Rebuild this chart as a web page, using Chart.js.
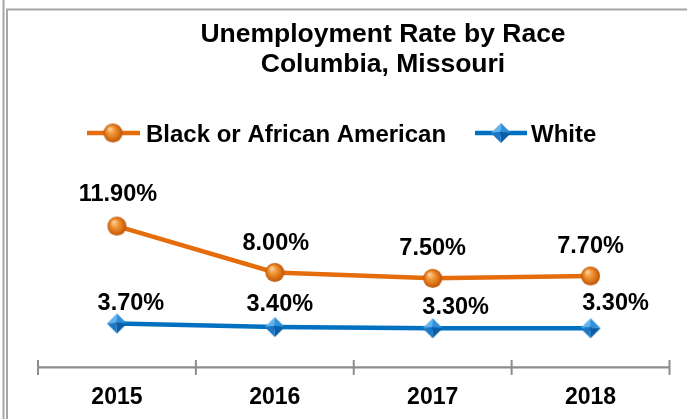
<!DOCTYPE html>
<html>
<head>
<meta charset="utf-8">
<script src="https://cdn.jsdelivr.net/npm/chart.js@4/dist/chart.umd.min.js"></script>
<style>
  html, body { margin: 0; padding: 0; background: #ffffff; }
  #wrap { position: relative; width: 687px; height: 419px; }
  canvas { display: block; }
</style>
</head>
<body>
<div id="wrap"><canvas id="c" width="687" height="419"></canvas></div>
<script>
// ---- data ----
const categories = ['2015', '2016', '2017', '2018'];
const blackRates = [11.9, 8.0, 7.5, 7.7];
const whiteRates = [3.7, 3.4, 3.3, 3.3];
const seriesNames = ['Black or African American', 'White'];
const titleLines = ['Unemployment Rate by Race', 'Columbia, Missouri'];

// ---- styles ----
const ORANGE = '#E46C0A';
const BLUE = '#0070C0';
const FONT = '"Liberation Sans", Arial, sans-serif';
const NARROW = '"Liberation Sans Narrow", "Arial Narrow", "Liberation Sans", sans-serif';
// label offsets (dx, dy) of the label centre relative to each point
const labelOffsets = [
  [[1, -33], [1, -31], [0, -31.6], [0, -31.7]],
  [[14, -22], [5, -24], [23, -22.6], [25, -26.3]]
];

function makeBall(r) {
  const s = Math.ceil(r * 2 + 2);
  const c = document.createElement('canvas');
  c.width = s; c.height = s;
  const g = c.getContext('2d');
  const cx = s / 2, cy = s / 2;
  const grad = g.createRadialGradient(cx - r * 0.35, cy - r * 0.45, r * 0.05, cx, cy, r);
  grad.addColorStop(0, '#FDD3A4');
  grad.addColorStop(0.35, '#F39A3E');
  grad.addColorStop(0.8, '#D56A10');
  grad.addColorStop(1, '#B4540C');
  g.fillStyle = grad;
  g.beginPath(); g.arc(cx, cy, r, 0, Math.PI * 2); g.fill();
  return c;
}
function makeDiamond(r) {
  const s = Math.ceil(r * 2 + 2);
  const c = document.createElement('canvas');
  c.width = s; c.height = s;
  const g = c.getContext('2d');
  const cx = s / 2, cy = s / 2;
  const T = [cx, cy - r], R = [cx + r, cy], B = [cx, cy + r], L = [cx - r, cy], C = [cx - 1, cy - 1];
  const tri = (a, b, col) => { g.fillStyle = col; g.beginPath(); g.moveTo(a[0], a[1]); g.lineTo(b[0], b[1]); g.lineTo(C[0], C[1]); g.closePath(); g.fill(); };
  tri(L, T, '#63B3EE');
  tri(T, R, '#2E8FDA');
  tri(R, B, '#0B5EA6');
  tri(B, L, '#1A78C6');
  return c;
}
const ball = makeBall(9.5);
const diamond = makeDiamond(10);

const decor = {
  id: 'decor',
  beforeDatasetsDraw(chart) {
    const ctx = chart.ctx;
    const x = chart.scales.x, y = chart.scales.y;
    const yAxis = y.getPixelForValue(0);
    ctx.save();
    ctx.strokeStyle = '#8C8C8C';
    ctx.lineWidth = 2.2;
    ctx.beginPath();
    ctx.moveTo(chart.chartArea.left, yAxis);
    ctx.lineTo(chart.chartArea.right, yAxis);
    ctx.stroke();
    ctx.lineWidth = 2;
    for (let i = 0; i <= categories.length; i++) {
      const px = x.getPixelForValue(i - 0.5);
      ctx.beginPath();
      ctx.moveTo(px, yAxis - 7.5);
      ctx.lineTo(px, yAxis + 7.5);
      ctx.stroke();
    }
    ctx.restore();
  },
  afterDraw(chart) {
    const ctx = chart.ctx;
    ctx.save();
    // frame
    ctx.strokeStyle = '#A6A6A6';
    ctx.lineWidth = 2;
    ctx.beginPath(); ctx.moveTo(3.5, 0); ctx.lineTo(3.5, 419); ctx.stroke();
    ctx.beginPath(); ctx.moveTo(7, 419); ctx.lineTo(7, 9.5); ctx.lineTo(687, 9.5); ctx.stroke();

    // title
    ctx.fillStyle = '#000';
    ctx.textAlign = 'center';
    ctx.textBaseline = 'alphabetic';
    ctx.font = 'bold 26.5px ' + FONT;
    ctx.fillText(titleLines[0], 383, 42);
    ctx.fillText(titleLines[1], 383, 72);

    // legend
    const ly = 133;
    ctx.lineWidth = 4.5;
    ctx.strokeStyle = ORANGE;
    ctx.beginPath(); ctx.moveTo(87, ly); ctx.lineTo(140, ly); ctx.stroke();
    ctx.drawImage(ball, 113 - ball.width / 2, ly - ball.height / 2);
    ctx.strokeStyle = BLUE;
    ctx.beginPath(); ctx.moveTo(475, ly); ctx.lineTo(527, ly); ctx.stroke();
    ctx.drawImage(diamond, 501 - diamond.width / 2, ly - diamond.height / 2);
    ctx.font = 'bold 24px ' + FONT;
    ctx.textAlign = 'left';
    ctx.fillText(seriesNames[0], 146, ly + 8.6);
    ctx.fillText(seriesNames[1], 531, ly + 8.6);

    // data labels
    ctx.font = 'bold 23.5px ' + FONT;
    ctx.textAlign = 'center';
    chart.data.datasets.forEach((ds, di) => {
      const meta = chart.getDatasetMeta(di);
      meta.data.forEach((pt, j) => {
        const off = labelOffsets[di][j];
        ctx.fillText(ds.data[j].toFixed(2) + '%', pt.x + off[0], pt.y + off[1] + 8.4);
      });
    });
    ctx.restore();
  }
};

new Chart(document.getElementById('c'), {
  type: 'line',
  data: {
    labels: categories,
    datasets: [
      { label: seriesNames[0], data: blackRates, borderColor: ORANGE, borderWidth: 4.5,
        pointStyle: ball, pointRadius: 9.5, pointHoverRadius: 9.5, tension: 0 },
      { label: seriesNames[1], data: whiteRates, borderColor: BLUE, borderWidth: 4.5,
        pointStyle: diamond, pointRadius: 10, pointHoverRadius: 10, tension: 0 }
    ]
  },
  options: {
    responsive: false,
    devicePixelRatio: 1,
    animation: false,
    events: [],
    layout: { padding: { left: 38, right: 17.5, top: 177.4, bottom: 0 } },
    scales: {
      x: {
        type: 'category',
        offset: true,
        grid: { display: false, drawTicks: false },
        border: { display: false },
        ticks: { color: '#000', font: { family: NARROW, size: 23, weight: 'bold' }, padding: 16, maxRotation: 0 },
        afterFit(s) { s.height = 51.6; }
      },
      y: { display: false, min: 0, max: 16 }
    },
    plugins: { legend: { display: false }, title: { display: false }, tooltip: { enabled: false } }
  },
  plugins: [decor]
});
</script>
</body>
</html>
